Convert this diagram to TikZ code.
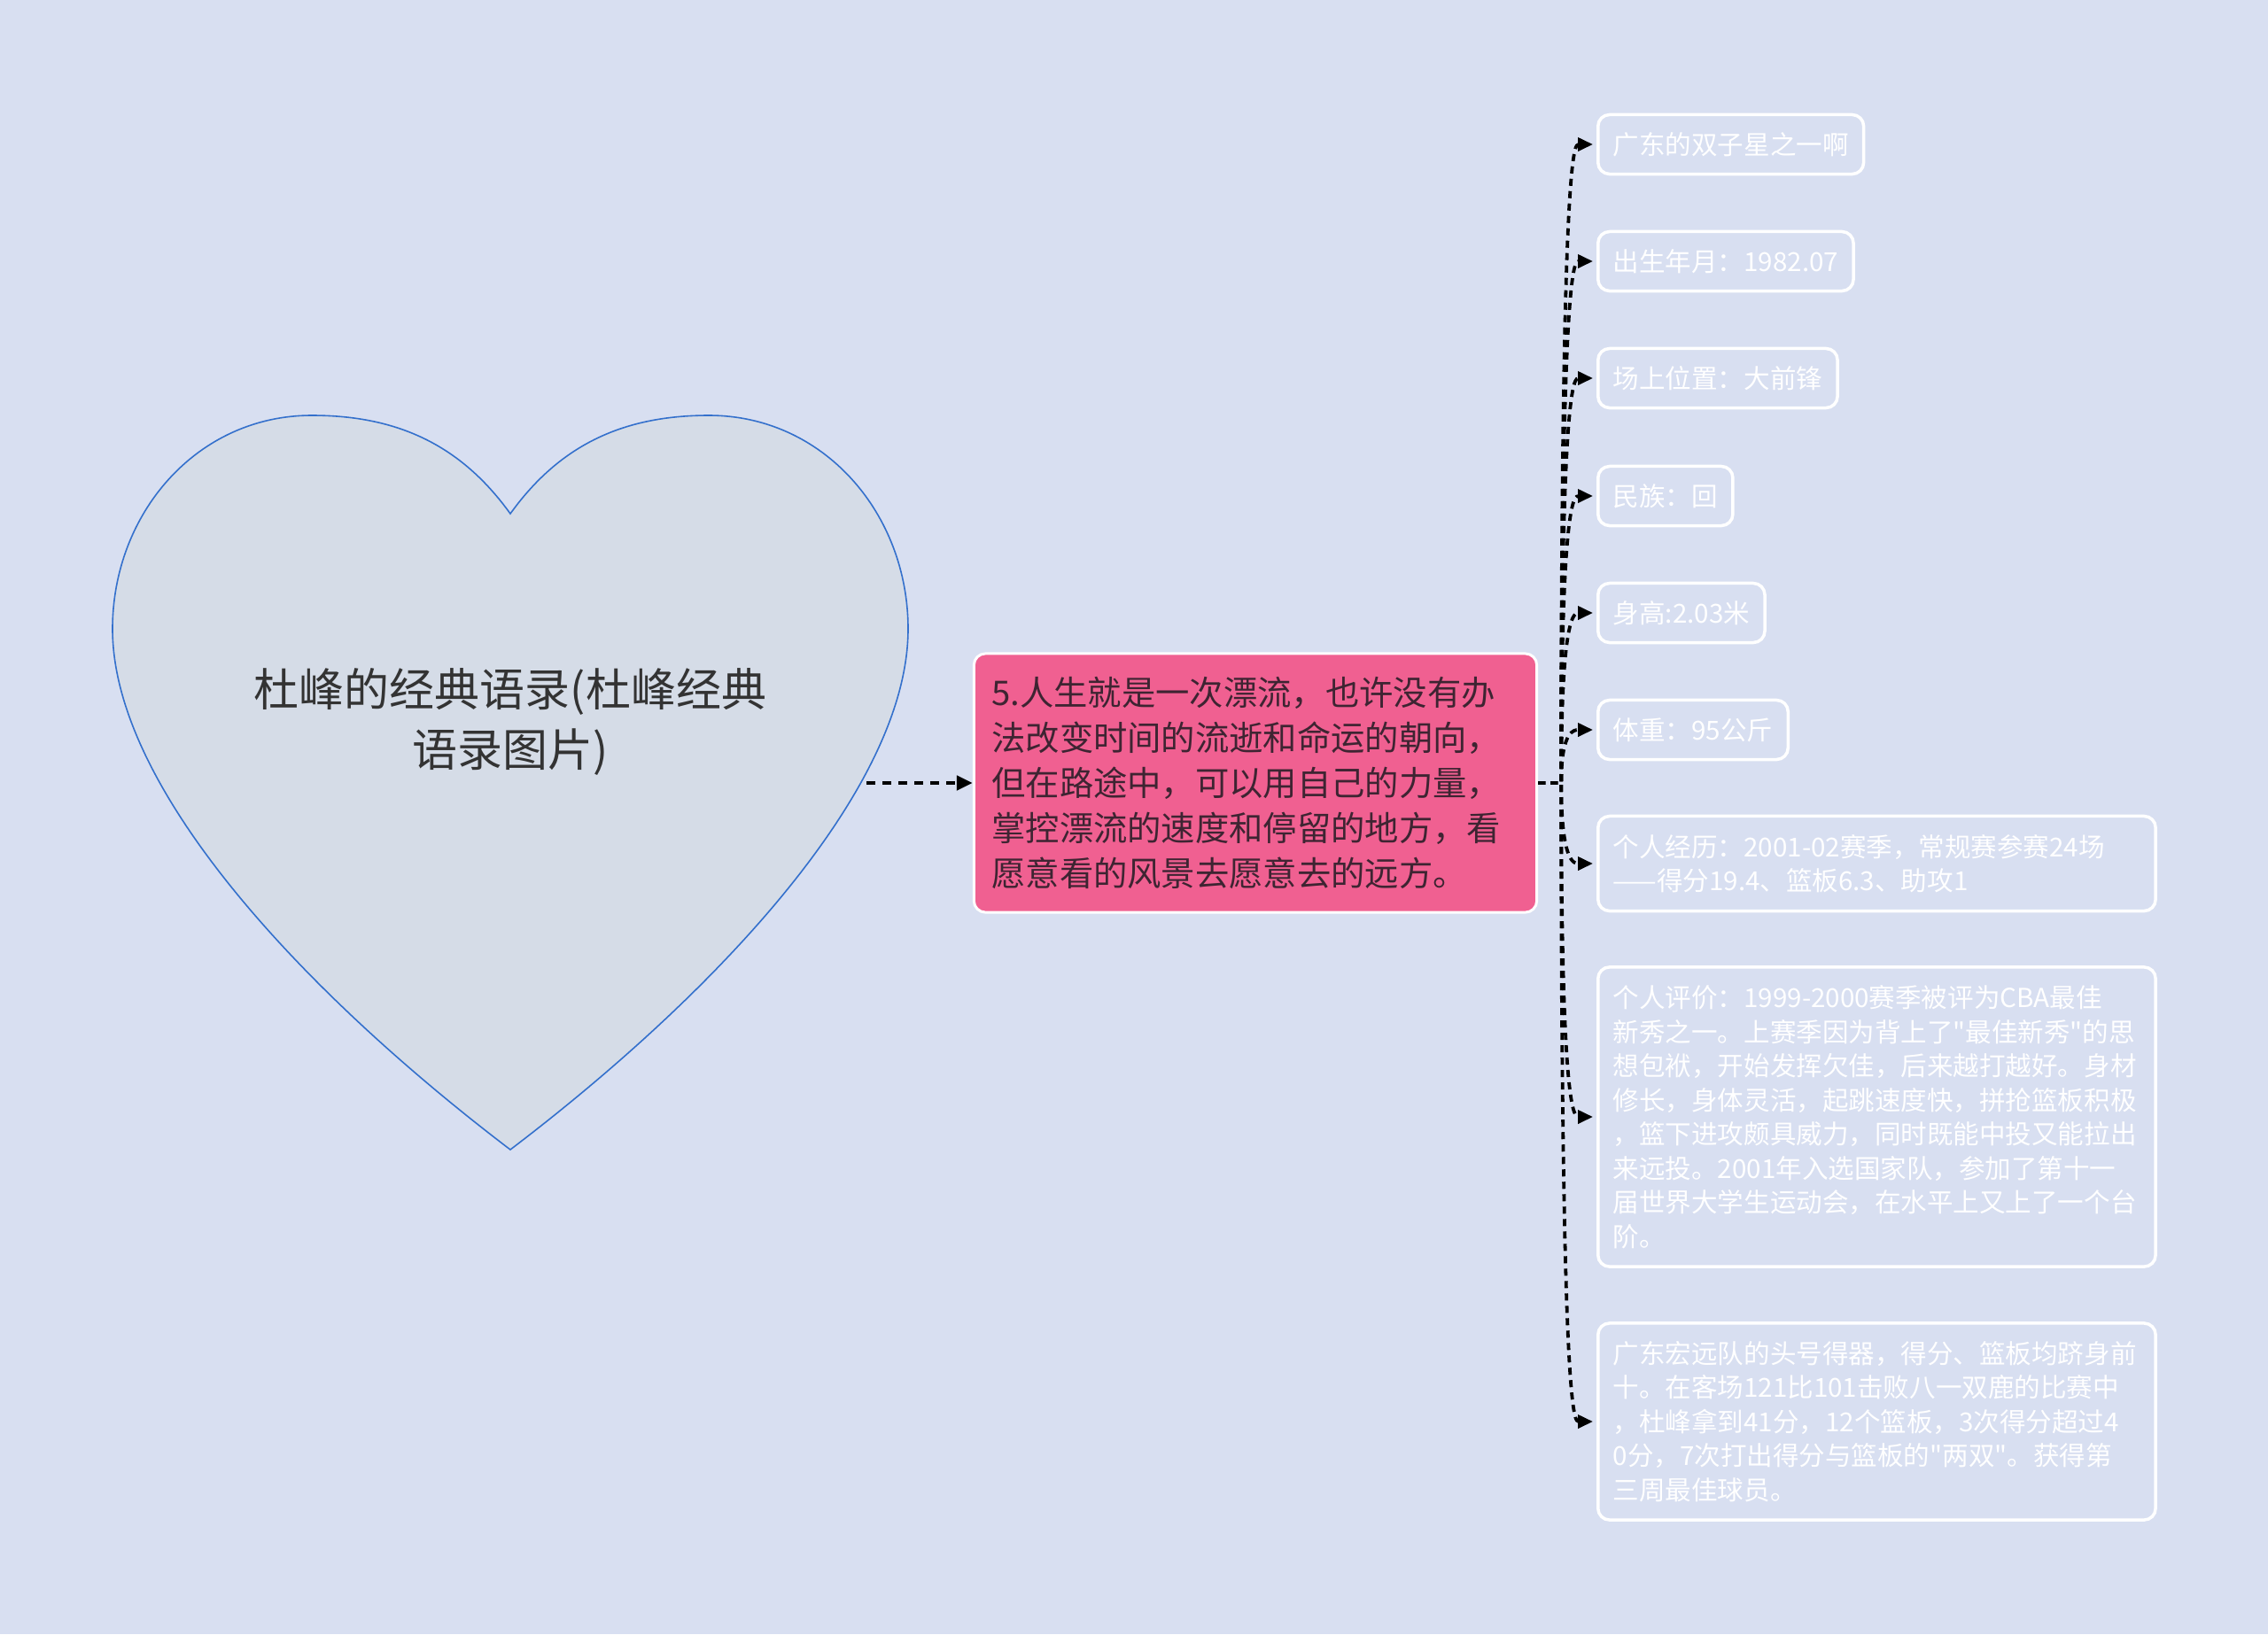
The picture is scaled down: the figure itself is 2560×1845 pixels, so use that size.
\documentclass[tikz,border=0pt]{standalone}
\usepackage{fontspec}
\newfontfamily\cjk{Noto Sans CJK SC}
\usepackage{xcolor}
\usepackage{tikz}
\usetikzlibrary{arrows.meta}

\definecolor{paper}{RGB}{216,223,241}
\definecolor{heartfill}{RGB}{213,220,231}
\definecolor{heartedge}{RGB}{52,112,204}
\definecolor{rose}{RGB}{240,96,145}
\definecolor{rosetext}{RGB}{62,36,50}

\begin{document}
\begin{tikzpicture}[x=0.01cm, y=-0.01cm]
  \tikzstyle{link}=[black, line width=0.045cm, dash pattern=on 0.1cm off 0.08cm, -{Triangle[length=0.18cm,width=0.16cm]}] % heart to quote
  \tikzstyle{twig}=[black, line width=0.038cm, dash pattern=on 0.08cm off 0.06cm, shorten >=0.04cm, -{Triangle[length=0.17cm,width=0.15cm]}] % quote to facts
  \tikzstyle{fact}=[anchor=west, draw=white, line width=0.035cm, rounded corners=0.13cm, text=white, inner xsep=0.17cm, minimum height=0.67cm, font=\cjk\fontsize{8.4pt}{10.95pt}\selectfont]
  \tikzstyle{longfact}=[fact, text width=5.95cm, align=left]
  \fill[paper] (0,0) rectangle (2560,1845);
  \useasboundingbox (0,0) rectangle (2560,1845);

  % the heart
  \draw[heartedge, fill=heartfill, line width=0.016cm]
    (576,580) .. controls (630,505) and (700,469) .. (800,469)
    .. controls (930,469) and (1025,580) .. (1025,710)
    .. controls (1025,890) and (810,1120) .. (576,1298)
    .. controls (342,1120) and (127,890) .. (127,710)
    .. controls (127,580) and (222,469) .. (352,469)
    .. controls (452,469) and (522,505) .. (576,580) -- cycle;
  \node[align=center, text={black!80}, font=\cjk\fontsize{14.5pt}{19.1pt}\selectfont] (root) at (576,815)
    {杜峰的经典语录(杜峰经典\\语录图片)};
  \coordinate (hr) at (978,884);

  % the quote
  \node[fill=rose, draw=white, line width=0.03cm, rounded corners=0.13cm, text=rosetext,
        text width=5.95cm, align=left, inner xsep=0.2cm, minimum height=2.92cm,
        font=\cjk\fontsize{10.9pt}{14.5pt}\selectfont] (quote) at (1417,884)
    {5.人生就是一次漂流，也许没有办\\
     法改变时间的流逝和命运的朝向，\\
     但在路途中，可以用自己的力量，\\
     掌控漂流的速度和停留的地方，看\\
     愿意看的风景去愿意去的远方。};
  \draw[link] (hr) -- (quote.west);
  \coordinate (jn) at ([xshift=0.26cm]quote.east);

  % the facts
  \node[fact] (f1) at (1802,163) {广东的双子星之一啊};
  \node[fact] (f2) at (1802,295) {出生年月：1982.07};
  \node[fact] (f3) at (1802,427) {场上位置：大前锋};
  \node[fact] (f4) at (1802,560) {民族：回};
  \node[fact] (f5) at (1802,692) {身高:2.03米};
  \node[fact] (f6) at (1802,824) {体重：95公斤};
  \node[longfact, minimum height=1.07cm] (f7) at (1802,975)
    {个人经历：2001-02赛季，常规赛参赛24场\\——得分19.4、篮板6.3、助攻1};
  \node[longfact, minimum height=3.38cm] (f8) at (1802,1261)
    {个人评价：1999-2000赛季被评为CBA最佳\\
     新秀之一。上赛季因为背上了"最佳新秀"的思\\
     想包袱，开始发挥欠佳，后来越打越好。身材\\
     修长，身体灵活，起跳速度快，拼抢篮板积极\\
     ，篮下进攻颇具威力，同时既能中投又能拉出\\
     来远投。2001年入选国家队，参加了第十一\\
     届世界大学生运动会，在水平上又上了一个台\\
     阶。};
  \node[longfact, minimum height=2.22cm] (f9) at (1802,1605)
    {广东宏远队的头号得器，得分、篮板均跻身前\\
     十。在客场121比101击败八一双鹿的比赛中\\
     ，杜峰拿到41分，12个篮板，3次得分超过4\\
     0分，7次打出得分与篮板的"两双"。获得第\\
     三周最佳球员。};

  \draw[twig] (quote.east) -- (jn) .. controls (jn |- f1.west) and ([xshift=-0.25cm]f1.west) .. (f1.west);
  \draw[twig] (quote.east) -- (jn) .. controls (jn |- f2.west) and ([xshift=-0.25cm]f2.west) .. (f2.west);
  \draw[twig] (quote.east) -- (jn) .. controls (jn |- f3.west) and ([xshift=-0.25cm]f3.west) .. (f3.west);
  \draw[twig] (quote.east) -- (jn) .. controls (jn |- f4.west) and ([xshift=-0.25cm]f4.west) .. (f4.west);
  \draw[twig] (quote.east) -- (jn) .. controls (jn |- f5.west) and ([xshift=-0.25cm]f5.west) .. (f5.west);
  \draw[twig] (quote.east) -- (jn) .. controls (jn |- f6.west) and ([xshift=-0.25cm]f6.west) .. (f6.west);
  \draw[twig] (quote.east) -- (jn) .. controls (jn |- f7.west) and ([xshift=-0.25cm]f7.west) .. (f7.west);
  \draw[twig] (quote.east) -- (jn) .. controls (jn |- f8.west) and ([xshift=-0.25cm]f8.west) .. (f8.west);
  \draw[twig] (quote.east) -- (jn) .. controls (jn |- f9.west) and ([xshift=-0.25cm]f9.west) .. (f9.west);
\end{tikzpicture}
\end{document}
